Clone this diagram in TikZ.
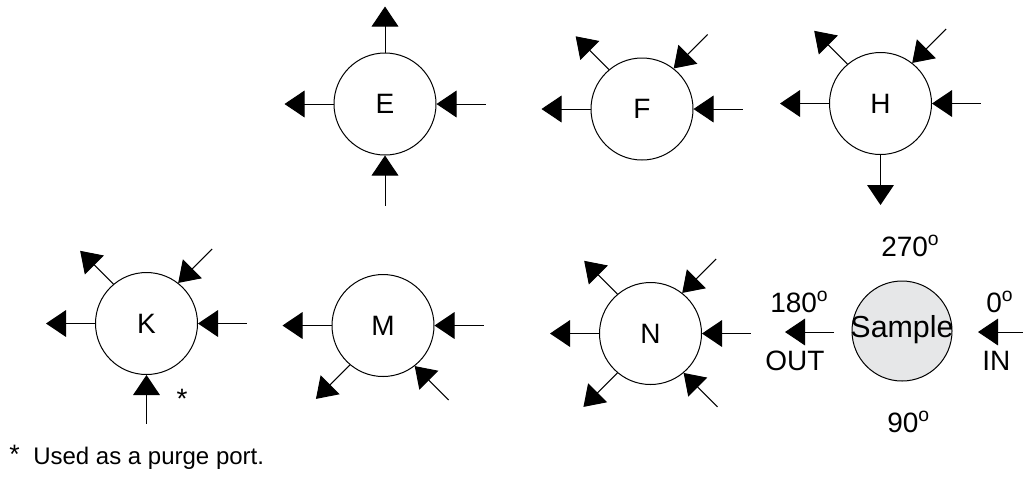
\documentclass[tikz,border=0pt]{standalone}
\usepackage{fontspec}
\setmainfont{Liberation Sans}
\usetikzlibrary{arrows.meta}
\definecolor{samplegray}{RGB}{230,231,232}
\newcommand\degsup{\raisebox{7.6pt}{\fontsize{14.5}{14.5}\selectfont o}}
\tikzset{
  port/.style={circle,draw,line width=0.75pt,minimum size=76.5pt,inner sep=0pt,
    font=\fontsize{21}{25}\selectfont},
  samplec/.style={port,fill=samplegray,minimum size=75pt},
  outa/.style={line width=0.75pt,-{Triangle[length=15pt,width=20pt]}},
  ina/.style={line width=0.75pt,{Triangle[length=15pt,width=20pt]}-},
  lbl/.style={font=\fontsize{21}{25}\selectfont,inner sep=0pt,anchor=base west},
  note/.style={font=\fontsize{18}{22}\selectfont,inner sep=0pt,anchor=base west}
}
\begin{document}
\begin{tikzpicture}[x=0.75pt,y=0.75pt]
\useasboundingbox (0,0) rectangle (1023,-476);
% circles
\node[port] (E) at (385,-104) {E};
\node[port] (F) at (642,-109) {F};
\node[port] (H) at (880.5,-103.5) {H};
\node[port] (K) at (146.5,-323.5) {K};
\node[port] (M) at (383,-325.5) {M};
\node[port] (N) at (650.5,-333.5) {N};
\node[samplec] (S) at (902,-331) {};
\node[font=\fontsize{22.8}{27}\selectfont,inner sep=0pt] (St) at (902,-330) {Sample};
% E
\draw[outa] (E.north) -- ++(90:46);
\draw[outa] (E.west) -- ++(180:49);
\draw[ina] (E.east) -- ++(0:49);
\draw[ina] (E.south) -- ++(270:50);
% F
\draw[outa] (F.west) -- ++(180:49);
\draw[ina] (F.east) -- ++(0:49);
\draw[outa] (F.130) -- ++(135:47);
\draw[ina] (F.52) -- ++(45:48);
% H
\draw[outa] (H.west) -- ++(180:49);
\draw[ina] (H.east) -- ++(0:49);
\draw[outa] (H.130) -- ++(135:47);
\draw[ina] (H.52) -- ++(45:48);
\draw[outa] (H.south) -- ++(270:50);
% K
\draw[outa] (K.west) -- ++(180:49);
\draw[ina] (K.east) -- ++(0:49);
\draw[outa] (K.130) -- ++(135:47);
\draw[ina] (K.52) -- ++(45:48);
\draw[ina] (K.south) -- ++(270:49);
\node[font=\fontsize{21}{25}\selectfont,inner sep=0pt,anchor=base] (star) at (182,-408) {*};
% M
\draw[outa] (M.west) -- ++(180:49);
\draw[ina] (M.east) -- ++(0:49);
\draw[outa] (M.230) -- ++(225:48);
\draw[ina] (M.308) -- ++(315:48);
% N
\draw[outa] (N.west) -- ++(180:49);
\draw[ina] (N.east) -- ++(0:49);
\draw[outa] (N.130) -- ++(135:47);
\draw[ina] (N.52) -- ++(45:48);
\draw[outa] (N.230) -- ++(225:48);
\draw[ina] (N.310) -- ++(315:48);
% Sample arrows
\coordinate (outs) at (834,-332);
\coordinate (oute) at (785,-332);
\coordinate (ins) at (1022.5,-332);
\coordinate (ine) at (978,-332);
\draw[outa] (outs) -- (oute);
\draw[outa] (ins) -- (ine);
% angle labels
\node[lbl] (l270) at (881,-256) {270\degsup};
\node[lbl] (l180) at (770,-312) {180\degsup};
\node[lbl] (lout) at (765,-370) {OUT};
\node[lbl] (l0) at (986,-312) {0\degsup};
\node[lbl] (lin) at (982,-370) {IN};
\node[lbl] (l90) at (887,-432) {90\degsup};
% footnote
\node[font=\fontsize{20}{24}\selectfont,inner sep=0pt,anchor=base west] (fstar) at (9,-463) {*};
\node[note] (fn) at (33,-464) {Used as a purge port.};
\end{tikzpicture}
\end{document}
